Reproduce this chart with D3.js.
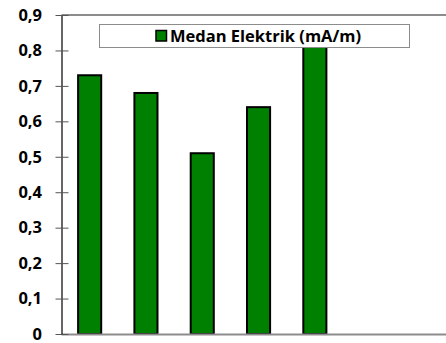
<!DOCTYPE html>
<html>
<head>
<meta charset="utf-8">
<script src="https://cdn.jsdelivr.net/npm/d3@7/dist/d3.min.js"></script>
<style>
  html, body { margin: 0; padding: 0; background: #fff; }
  svg { display: block; }
  text { font-family: "Open Sans", Lato, sans-serif; font-weight: 700; fill: #000; }
</style>
</head>
<body>
<script>
// Bar chart: electric field per measurement point
const categories = ["1", "2", "3", "4", "5"];
const values = [0.73, 0.68, 0.51, 0.64, 0.86];
const tickValues = [0, 0.1, 0.2, 0.3, 0.4, 0.5, 0.6, 0.7, 0.8, 0.9];
const seriesName = "Medan Elektrik (mA/m)";

const W = 446, H = 343;
const plotLeft = 61.5, plotTop = 15, plotBottom = 334, plotRight = 446;
const fontSize = 16.5;

const svg = d3.select("body").append("svg")
  .attr("width", W).attr("height", H);

const y = d3.scaleLinear().domain([0, 0.9]).range([plotBottom, plotTop]);
const x = d3.scaleBand().domain(categories)
  .range([plotLeft, plotLeft + 56.3 * categories.length])
  .paddingInner(0.59).paddingOuter(0.295);

// plot frame: grey top edge
svg.append("line").attr("x1", plotLeft).attr("x2", plotRight)
  .attr("y1", plotTop).attr("y2", plotTop)
  .attr("stroke", "#8c8c8c").attr("stroke-width", 2);

// bars
svg.append("g").selectAll("rect").data(values).join("rect")
  .attr("x", (d, i) => x(categories[i]))
  .attr("y", d => y(d))
  .attr("width", x.bandwidth())
  .attr("height", d => plotBottom - y(d))
  .attr("fill", "#008000")
  .attr("stroke", "#000").attr("stroke-width", 2);

// category axis line
svg.append("line").attr("x1", plotLeft).attr("x2", plotRight)
  .attr("y1", plotBottom + 0.5).attr("y2", plotBottom + 0.5)
  .attr("stroke", "#8c8c8c").attr("stroke-width", 2);

// y axis with ticks crossing the line
const yAxis = d3.axisLeft(y).tickValues(tickValues)
  .tickFormat(d => d3.format(".1f")(d).replace(".", ",").replace(/^0,0$/, "0"))
  .tickSizeInner(6).tickSizeOuter(0).tickPadding(13.5);
const ga = svg.append("g").attr("transform", `translate(${plotLeft},0)`).call(yAxis);
ga.select(".domain").attr("stroke", "#000").attr("stroke-width", 1.2);
ga.selectAll(".tick line").attr("x2", 7).attr("x1", -6).attr("stroke", "#555");
ga.selectAll(".tick text").attr("font-size", fontSize)
  .attr("font-family", "'Open Sans', sans-serif").attr("font-weight", 700).attr("fill", "#000");

// legend
const lg = svg.append("g");
lg.append("rect").attr("x", 99.5).attr("y", 24.5).attr("width", 310).attr("height", 23)
  .attr("fill", "#fff").attr("stroke", "#8c8c8c").attr("stroke-width", 1);
lg.append("rect").attr("x", 156).attr("y", 30.5).attr("width", 10.5).attr("height", 10.5)
  .attr("fill", "#008000").attr("stroke", "#000").attr("stroke-width", 1.5);
lg.append("text").attr("x", 170).attr("y", 41.5)
  .attr("font-size", fontSize).text(seriesName);
</script>
</body>
</html>
